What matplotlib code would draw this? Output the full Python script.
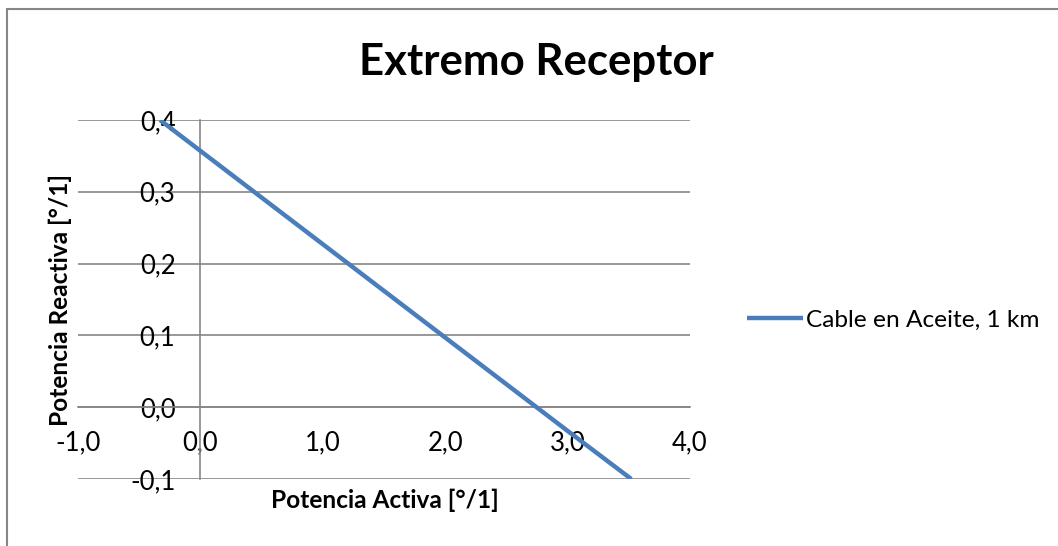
import numpy as np
import matplotlib.pyplot as plt
from matplotlib.patches import Rectangle

plt.rcParams['font.family'] = ['Lato', 'DejaVu Sans']

# potencia activa / reactiva (pu) del extremo receptor
p_activa = [-0.33, 0.0, 1.0, 2.0, 3.0, 3.52]
q_reactiva = [0.40, 0.357, 0.227, 0.097, -0.033, -0.10]

x_ticks = [-1.0, 0.0, 1.0, 2.0, 3.0, 4.0]
y_ticks = [-0.1, 0.0, 0.1, 0.2, 0.3, 0.4]

def coma(v):
    return f"{v:.1f}".replace('.', ',')

fig = plt.figure(figsize=(10.58, 5.46), dpi=100)
ax = fig.add_axes([78/1058, 1-479/546, 612/1058, 359/546])

gris = '#868686'
ax.plot(p_activa, q_reactiva, color='#4A7EBB', lw=3.2, solid_capstyle='butt',
        label='Cable en Aceite, 1 km', zorder=3)

ax.set_xlim(-1, 4)
ax.set_ylim(-0.1, 0.4)
for s in ['top', 'right']:
    ax.spines[s].set_visible(False)
ax.spines['left'].set_position(('data', 0))
ax.spines['bottom'].set_position(('data', 0))
ax.spines['left'].set_color(gris)
ax.spines['bottom'].set_color(gris)
ax.spines['left'].set_linewidth(1.2)
ax.spines['bottom'].set_linewidth(1.2)

ax.set_xticks(x_ticks)
ax.set_xticklabels([coma(v) for v in x_ticks])
ax.set_yticks(y_ticks)
ax.set_yticklabels([coma(v) for v in y_ticks])
ax.tick_params(length=0, labelsize=18.5, colors='black')
ax.tick_params(axis='x', pad=17)
ax.tick_params(axis='y', pad=18)
for lab in ax.get_yticklabels():
    lab.set_zorder(5)

ax.grid(axis='y', color=gris, lw=1.2)
ax.set_axisbelow(True)

fig.text(385/1058, 1-500/546, 'Potencia Activa [°/1]', ha='center', va='center',
         fontsize=17.6, fontweight='bold')
fig.text(60/1058, 1-300/546, 'Potencia Reactiva [°/1]', ha='center', va='center',
         rotation=90, fontsize=17.6, fontweight='bold')
fig.text(536/1058, 1-62/546, 'Extremo Receptor', ha='center', va='center',
         fontsize=31.5, fontweight='bold')

ax.legend(loc='center left', bbox_to_anchor=(747/1058, 1-320/546),
          bbox_transform=fig.transFigure, frameon=False, fontsize=17.6,
          handlelength=2.3, handletextpad=0.12, borderpad=0, borderaxespad=0)

fig.add_artist(Rectangle((7/1058, -0.1), 1.2, 1-9/546+0.1, transform=fig.transFigure,
                         fill=False, edgecolor=gris, lw=1.5))

fig.savefig('out.png', dpi=100)
